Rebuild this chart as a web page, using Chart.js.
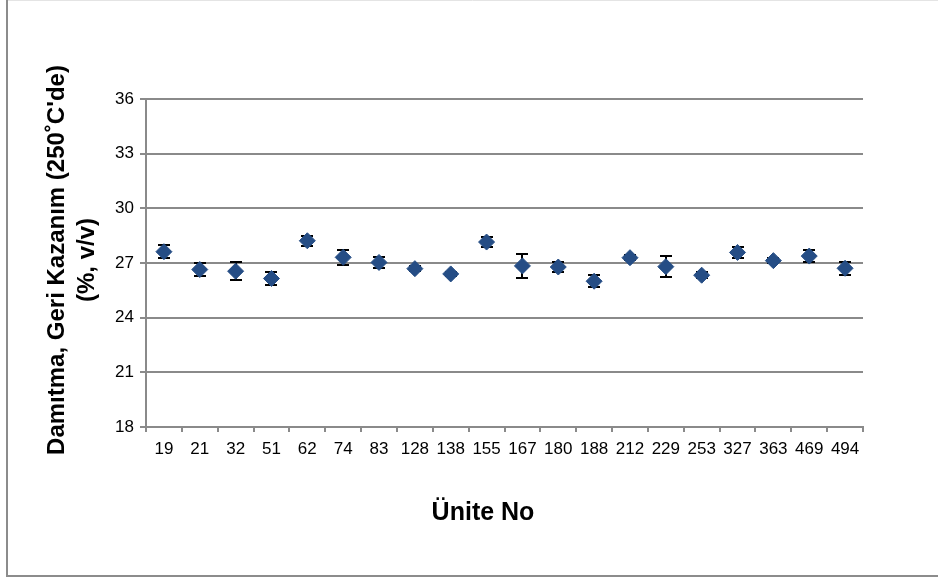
<!DOCTYPE html>
<html>
<head>
<meta charset="utf-8">
<script src="https://cdn.jsdelivr.net/npm/chart.js@4"></script>
<style>
  html, body { margin: 0; padding: 0; background: #fff; }
  canvas { display: block; }
</style>
</head>
<body>
<canvas id="c" width="938" height="578"></canvas>
<script>
// Unit numbers along the x axis
const units = ['19','21','32','51','62','74','83','128','138','155','167','180','188','212','229','253','327','363','469','494'];
// Mean distillation recovery at 250 °C (% v/v) for each unit
const recovery = [27.62, 26.64, 26.55, 26.15, 28.22, 27.31, 27.03, 26.69, 26.40, 28.15, 26.84, 26.78, 26.00, 27.29, 26.80, 26.33, 27.58, 27.13, 27.38, 26.71];
// Half-width of the error bar for each unit
const spread = [0.35, 0.35, 0.50, 0.36, 0.28, 0.42, 0.30, 0.15, 0.12, 0.25, 0.64, 0.30, 0.32, 0.15, 0.56, 0.15, 0.30, 0.15, 0.32, 0.36];
// Value axis ticks
const yTicks = [18, 21, 24, 27, 30, 33, 36];

const yTitle = ['Damıtma, Geri Kazanım (250˚C\'de)', '(%, v/v)'];
const xTitle = 'Ünite No';

const GRID = '#8a8a8a';
const FONT = 'Arial, "Liberation Sans", sans-serif';

// Error bars, drawn under the markers
const errorBars = {
  id: 'errorBars',
  beforeDatasetsDraw(chart) {
    const { ctx, scales: { x, y } } = chart;
    ctx.save();
    ctx.strokeStyle = '#000';
    ctx.lineWidth = 2;
    recovery.forEach((v, i) => {
      const px = Math.round(x.getPixelForValue(i));
      const top = Math.round(y.getPixelForValue(v + spread[i]));
      const bot = Math.round(y.getPixelForValue(v - spread[i]));
      ctx.beginPath();
      ctx.moveTo(px, top); ctx.lineTo(px, bot);
      ctx.moveTo(px - 6, top); ctx.lineTo(px + 6, top);
      ctx.moveTo(px - 6, bot); ctx.lineTo(px + 6, bot);
      ctx.stroke();
    });
    ctx.restore();
  }
};

// Frame and axis titles
const frame = {
  id: 'frame',
  beforeDraw(chart) {
    const { ctx } = chart;
    ctx.save();
    ctx.fillStyle = '#fff';
    ctx.fillRect(0, 0, chart.width, chart.height);
    ctx.strokeStyle = '#e4e4e4';
    ctx.lineWidth = 1;
    ctx.beginPath(); ctx.moveTo(7, 0.5); ctx.lineTo(chart.width, 0.5); ctx.stroke();
    ctx.strokeStyle = '#8c8c8c';
    ctx.lineWidth = 2;
    ctx.beginPath();
    ctx.moveTo(7, 0); ctx.lineTo(7, 576); ctx.lineTo(chart.width, 576);
    ctx.stroke();
    ctx.restore();
  },
  afterDraw(chart) {
    const { ctx } = chart;
    ctx.save();
    ctx.fillStyle = '#000';
    ctx.font = 'bold 25px ' + FONT;
    ctx.textAlign = 'center';
    ctx.textBaseline = 'middle';
    ctx.fillText(xTitle, 483, 513);
    ctx.font = 'bold 24px ' + FONT;
    ctx.translate(72, 260);
    ctx.rotate(-Math.PI / 2);
    ctx.fillText(yTitle[0], 0, -15);
    ctx.fillText(yTitle[1], 0, 15);
    ctx.restore();
  }
};

new Chart(document.getElementById('c'), {
  type: 'line',
  data: {
    labels: units,
    datasets: [{
      data: recovery,
      showLine: false,
      pointStyle: 'rectRot',
      pointRadius: 8,
      pointHoverRadius: 8,
      pointBackgroundColor: '#254D85',
      pointBorderColor: '#254D85',
      pointBorderWidth: 1
    }]
  },
  options: {
    responsive: false,
    animation: false,
    events: [],
    layout: { padding: { left: 0, top: 99, right: 75, bottom: 0 } },
    plugins: { legend: { display: false }, tooltip: { enabled: false } },
    scales: {
      x: {
        type: 'category',
        offset: true,
        afterFit(s) { s.height = 151; },
        grid: { offset: true, drawOnChartArea: false, drawTicks: true, tickLength: 5, color: GRID, lineWidth: 2 },
        border: { color: GRID, width: 2 },
        ticks: { color: '#000', font: { family: FONT, size: 17 }, padding: 7, maxRotation: 0, autoSkip: false }
      },
      y: {
        min: 18, max: 36,
        afterFit(s) { s.width = 146; },
        afterBuildTicks(s) { s.ticks = yTicks.map(v => ({ value: v })); },
        grid: { color: GRID, lineWidth: 2, tickLength: 6 },
        border: { color: GRID, width: 2 },
        ticks: { color: '#000', font: { family: FONT, size: 17 }, padding: 6 }
      }
    }
  },
  plugins: [frame, errorBars]
});
</script>
</body>
</html>
